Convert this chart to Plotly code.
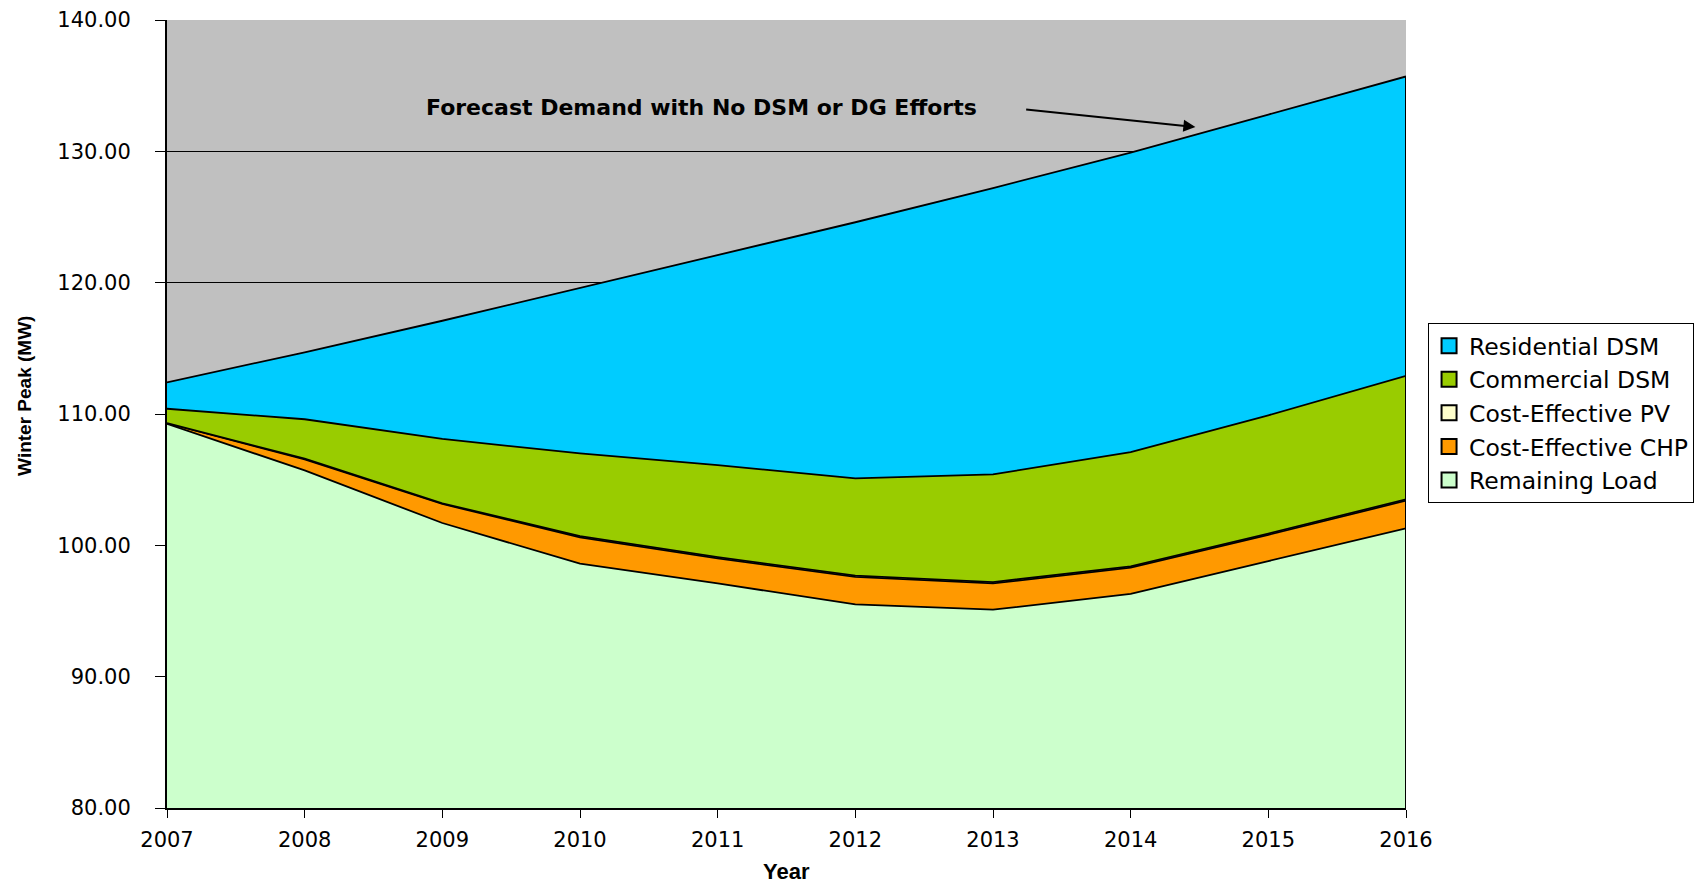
import plotly.graph_objects as go

years = [2007, 2008, 2009, 2010, 2011, 2012, 2013, 2014, 2015, 2016]
remaining_load = [109.25, 105.7, 101.7, 98.6, 97.1, 95.5, 95.1, 96.3, 98.8, 101.3]
cost_effective_pv = [0.0, 0.05, 0.05, 0.1, 0.1, 0.1, 0.1, 0.1, 0.1, 0.1]
cost_effective_chp = [0.05, 0.85, 1.45, 2.0, 1.9, 2.1, 2.0, 2.0, 2.0, 2.1]
commercial_dsm = [1.1, 3.0, 4.9, 6.3, 7.0, 7.4, 8.2, 8.7, 9.0, 9.4]
residential_dsm = [2.0, 5.1, 9.0, 12.6, 16.0, 19.5, 21.8, 22.8, 22.9, 22.8]

series = [
    ("Remaining Load", remaining_load, "#CCFFCC"),
    ("Cost-Effective CHP", cost_effective_chp, "#FF9900"),
    ("Cost-Effective PV", cost_effective_pv, "#FFFFCC"),
    ("Commercial DSM", commercial_dsm, "#99CC00"),
    ("Residential DSM", residential_dsm, "#00CCFF"),
]

Y_MIN, Y_MAX = 80, 140
TICK_FONT = dict(family="DejaVu Sans", size=21, color="black")

fig = go.Figure()
for name, vals, color in series:
    fig.add_trace(go.Scatter(
        x=years, y=vals, name=name, stackgroup="one", mode="lines",
        line=dict(color="black", width=1.8), fillcolor=color,
        showlegend=False, hoverinfo="skip",
    ))

totals = [sum(v) for v in zip(*[s[1] for s in series])]
fig.add_trace(go.Scatter(
    x=[years[-1], years[-1]], y=[Y_MIN, totals[-1]], mode="lines",
    line=dict(color="black", width=2), showlegend=False, hoverinfo="skip",
))

# legend entries (square swatches), top to bottom as in the reference
for name, vals, color in reversed(series):
    fig.add_trace(go.Scatter(
        x=[None], y=[None], mode="markers", name=name,
        marker=dict(symbol="square", size=15, color=color,
                    line=dict(color="black", width=2)),
    ))

fig.update_layout(
    width=1700, height=887,
    margin=dict(l=167, r=294, t=20, b=79, autoexpand=False),
    paper_bgcolor="white",
    plot_bgcolor="#C0C0C0",
    showlegend=True,
    legend=dict(
        x=1.0178, y=0.6155, xanchor="left", yanchor="top",
        traceorder="normal",
        bgcolor="white", bordercolor="black", borderwidth=1,
        font=dict(family="DejaVu Sans", size=23.5, color="black"),
        itemwidth=30, tracegroupgap=0,
    ),
    xaxis=dict(
        range=[years[0], years[-1]], tickmode="array", tickvals=years,
        ticktext=[str(y) for y in years],
        ticks="outside", ticklen=8, tickcolor="black", tickwidth=1,
        ticklabelstandoff=4, automargin=False,
        showline=True, linecolor="black", linewidth=2,
        showgrid=False, zeroline=False, tickfont=TICK_FONT,
    ),
    yaxis=dict(
        range=[Y_MIN, Y_MAX], dtick=10, tickformat=".2f",
        ticks="outside", ticklen=10, tickcolor="black", tickwidth=1,
        ticklabelstandoff=20, automargin=False,
        showline=True, linecolor="black", linewidth=2,
        showgrid=True, gridcolor="black", gridwidth=1, zeroline=False,
        tickfont=TICK_FONT,
    ),
    annotations=[
        dict(text="<b>Winter Peak (MW)</b>", xref="paper", yref="paper",
             x=-0.1146, y=0.523, xanchor="center", yanchor="middle",
             textangle=-90, showarrow=False,
             font=dict(family="Liberation Sans", size=19, color="black")),
        dict(text="<b>Year</b>", xref="paper", yref="paper",
             x=0.5, y=-0.081, xanchor="center", yanchor="middle",
             showarrow=False,
             font=dict(family="Liberation Sans", size=22, color="black")),
        dict(text="<b>Forecast Demand with No DSM or DG Efforts</b>",
             xref="x", yref="y", x=2010.88, y=133.37,
             xanchor="center", yanchor="middle", showarrow=False,
             font=dict(family="DejaVu Sans", size=22, color="black")),
        dict(text="", xref="x", yref="y", x=2014.47, y=131.85,
             axref="x", ayref="y", ax=2013.23, ay=133.2,
             showarrow=True, arrowhead=2, arrowsize=1.2, arrowwidth=2,
             arrowcolor="black"),
    ],
)

fig.write_html("out.html")
